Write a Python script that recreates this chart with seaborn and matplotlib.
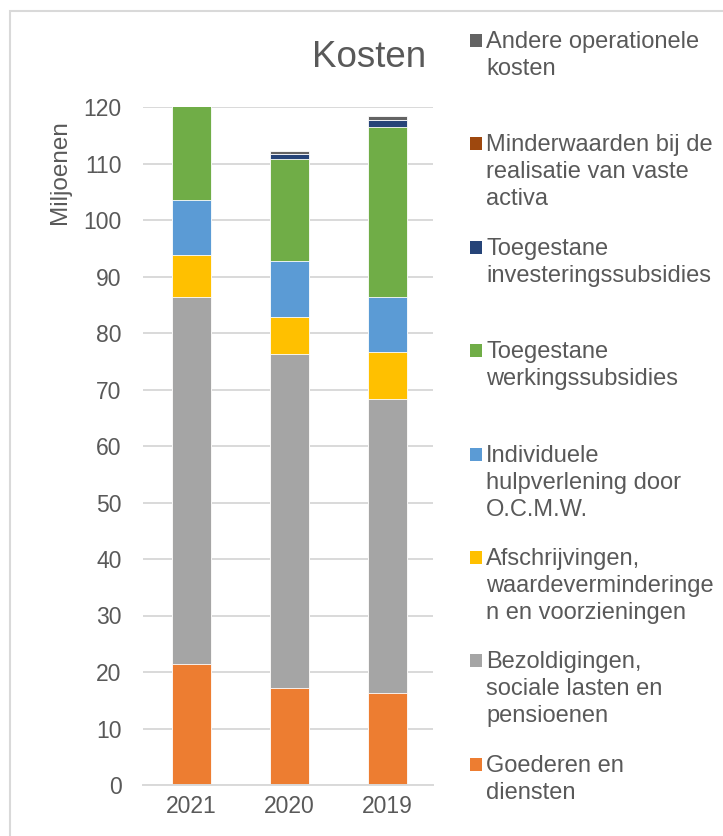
import numpy as np
import pandas as pd
import matplotlib
matplotlib.use("Agg")
import matplotlib.pyplot as plt
from matplotlib.patches import Rectangle
import seaborn as sns

years = ["2021", "2020", "2019"]
series_names = [
    "Goederen en diensten",
    "Bezoldigingen, sociale lasten en pensioenen",
    "Afschrijvingen, waardeverminderingen en voorzieningen",
    "Individuele hulpverlening door O.C.M.W.",
    "Toegestane werkingssubsidies",
    "Toegestane investeringssubsidies",
    "Minderwaarden bij de realisatie van vaste activa",
    "Andere operationele kosten",
]
goederen = [21.4, 17.1, 16.2]
bezoldigingen = [65.0, 59.2, 52.1]
afschrijvingen = [7.4, 6.5, 8.3]
individuele = [9.7, 9.9, 9.7]
werkingssubsidies = [17.5, 18.1, 30.2]
investeringssubsidies = [0.0, 0.9, 1.2]
minderwaarden = [0.0, 0.0, 0.05]
andere = [0.0, 0.6, 0.6]

legend_labels = [
    ["Andere operationele", "kosten"],
    ["Minderwaarden bij de", "realisatie van vaste", "activa"],
    ["Toegestane", "investeringssubsidies"],
    ["Toegestane", "werkingssubsidies"],
    ["Individuele", "hulpverlening door", "O.C.M.W."],
    ["Afschrijvingen,", "waardeverminderinge", "n en voorzieningen"],
    ["Bezoldigingen,", "sociale lasten en", "pensioenen"],
    ["Goederen en", "diensten"],
]
y_ticks = [0, 10, 20, 30, 40, 50, 60, 70, 80, 90, 100, 110, 120]

colors = ["#ED7D31", "#A5A5A5", "#FFC000", "#5B9BD5", "#70AD47", "#264478", "#9E480E", "#636363"]
TXT = "#595959"
GRID = "#D9D9D9"

sns.set_theme(style="white")
plt.rcParams["font.family"] = ["Liberation Sans", "DejaVu Sans"]

W, H = 723, 836
fig = plt.figure(figsize=(W / 100, H / 100), dpi=100)
ax = fig.add_axes([142.5 / W, (H - 785) / H, 290 / W, 678 / H])

layers = [goederen, bezoldigingen, afschrijvingen, individuele,
          werkingssubsidies, investeringssubsidies, minderwaarden, andere]
cum = np.cumsum(np.array(layers), axis=0)

# draw from top cumulative down so lower segments overlay
for i in range(len(layers) - 1, -1, -1):
    df = pd.DataFrame({"Jaar": years, "Waarde": cum[i]})
    sns.barplot(data=df, x="Jaar", y="Waarde", order=years, color=colors[i],
                saturation=1, width=0.4, ax=ax, edgecolor="white", linewidth=0.6,
                zorder=3)

ax.set_ylim(0, 120)
ax.set_xlim(-0.5, 2.46)
ax.set_yticks(y_ticks)
ax.set_yticklabels([str(t) for t in y_ticks])
ax.yaxis.grid(True, color=GRID, linewidth=1.4, zorder=0)
ax.set_axisbelow(True)
for s in ["top", "right", "left"]:
    ax.spines[s].set_visible(False)
ax.spines["bottom"].set_color(GRID)
ax.spines["bottom"].set_linewidth(1.4)
ax.spines["bottom"].set_zorder(4)
ax.tick_params(axis="y", length=0, pad=15, labelsize=16.5, labelcolor=TXT)
ax.tick_params(axis="x", length=0, pad=7, labelsize=16.5, labelcolor=TXT)
ax.set_xlabel("")
ax.set_ylabel("")

fig.text(60 / W, 1 - 172.5 / H, "Miljoenen", rotation=90, ha="center", va="center",
         fontsize=17.5, color=TXT)
fig.text(369.5 / W, 1 - 67 / H, "Kosten", ha="center", va="baseline",
         fontsize=26.5, color=TXT)

# outer chart frame
fig.patches.append(Rectangle((10 / W, -0.05), 1.2, 1 - 11 / H + 0.05,
                             transform=fig.transFigure, fill=False,
                             edgecolor=GRID, linewidth=1.5))

# legend
legend_colors = colors[::-1]
for k, (lines, c) in enumerate(zip(legend_labels, legend_colors)):
    base = 48 + 103.4 * k
    fig.patches.append(Rectangle((470 / W, 1 - (base - 1) / H), 12 / W, 13 / H,
                                 transform=fig.transFigure, facecolor=c,
                                 edgecolor="none"))
    for j, line in enumerate(lines):
        fig.text(486 / W, 1 - (base + 27 * j) / H, line, ha="left", va="baseline",
                 fontsize=17, color=TXT)

fig.savefig("out.png", dpi=100, facecolor="white")
